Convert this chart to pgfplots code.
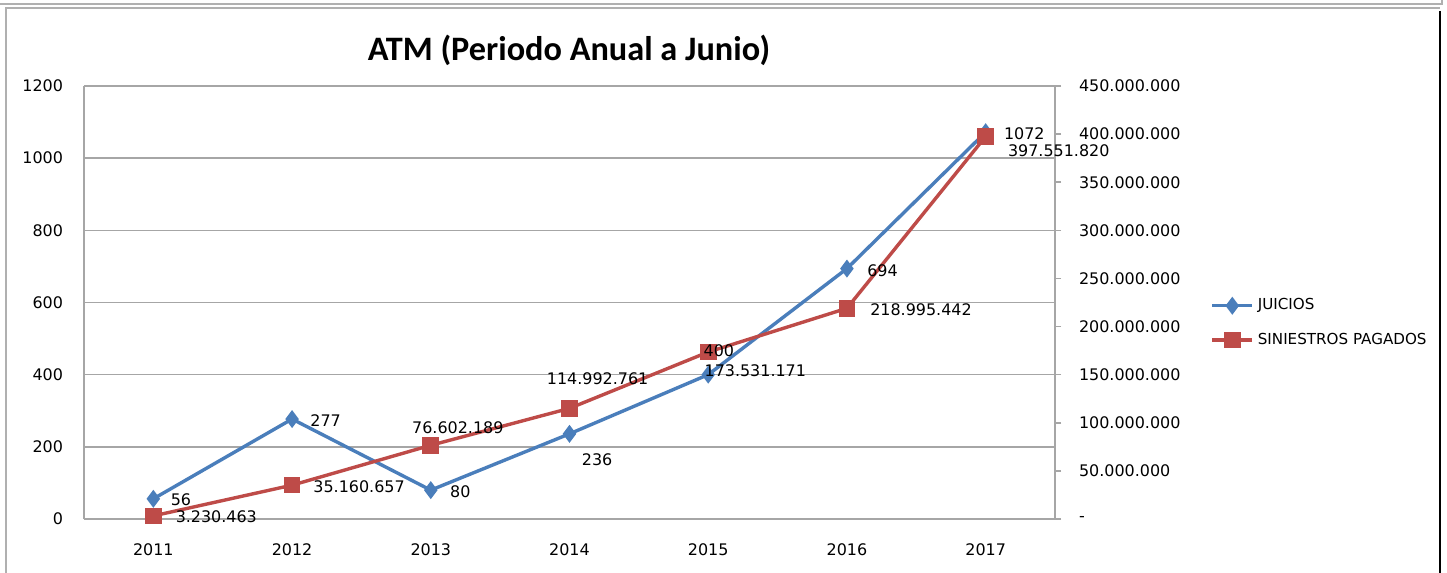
\documentclass[border=0pt]{standalone}
\usepackage{fontspec}
\setmainfont{DejaVu Sans}
\newfontfamily\titlefont{Carlito}
\usepackage{pgfplots}
\pgfplotsset{compat=1.18}
\definecolor{jblue}{HTML}{4A7EBB}
\definecolor{sred}{HTML}{BE4B48}
\definecolor{gridgray}{HTML}{A6A6A6}
\definecolor{framegray}{HTML}{B0B0B0}

\pgfplotstableread{
x y
0 56
1 277
2 80
3 236
4 400
5 694
6 1072
}\juicios

\pgfplotstableread{
x y
0 3230463
1 35160657
2 76602189
3 114992761
4 173531171
5 218995442
6 397551820
}\siniestros

\begin{document}
\begin{tikzpicture}
\useasboundingbox (0,0) rectangle (723.5bp,286.5bp);
\fill[white] (0,0) rectangle (723.5bp,286.5bp);
% frames
\draw[framegray, line width=1bp] (0,284.5bp) -- (721bp,284.5bp) -- (721bp,287bp);
\draw[framegray, line width=1bp] (3bp,-1bp) -- (3bp,282.3bp) -- (720bp,282.3bp);
\draw[black, line width=1.3bp] (720bp,281bp) -- (720bp,-1bp);

\node[font=\titlefont\bfseries\fontsize{17.2}{20}\selectfont] at (284.5bp,261.5bp) {ATM (Periodo Anual a Junio)};

\begin{axis}[
  at={(42bp,27bp)}, anchor=south west, scale only axis,
  width=485.5bp, height=216.5bp,
  xmin=-0.5, xmax=6.5, ymin=0, ymax=1200,
  xtick={0,1,2,3,4,5,6},
  xticklabels={2011,2012,2013,2014,2015,2016,2017},
  ytick={0,200,400,600,800,1000,1200},
  axis x line*=bottom, axis y line*=left,
  axis line style={gridgray, line width=0.8bp, -},
  ymajorgrids, grid style={gridgray, line width=0.8bp},
  major tick length=0pt,
  tick label style={font=\fontsize{8}{9}\selectfont},
  /pgf/number format/assume math mode=true,
  /pgf/number format/1000 sep={},
  yticklabel style={xshift=-7bp},
  xticklabel style={yshift=-9bp},
  clip=false,
]
\addplot[jblue, line width=1.7bp, mark=diamond*, mark size=3.1bp] table[x=x,y=y] {\juicios};
\coordinate (b0) at (axis cs:0,56);
\coordinate (b1) at (axis cs:1,277);
\coordinate (b2) at (axis cs:2,80);
\coordinate (b3) at (axis cs:3,236);
\coordinate (b4) at (axis cs:4,400);
\coordinate (b5) at (axis cs:5,694);
\coordinate (b6) at (axis cs:6,1072);
\end{axis}

\begin{axis}[
  at={(42bp,27bp)}, anchor=south west, scale only axis,
  width=485.5bp, height=216.5bp,
  xmin=-0.5, xmax=6.5, ymin=0, ymax=450000000,
  axis x line=none, axis y line*=right,
  axis line style={gridgray, line width=0.8bp, -},
  ytick={0,50000000,100000000,150000000,200000000,250000000,300000000,350000000,400000000,450000000},
  yticklabels={-,50.000.000,100.000.000,150.000.000,200.000.000,250.000.000,300.000.000,350.000.000,400.000.000,450.000.000},
  scaled y ticks=false,
  tick align=outside, major tick length=3bp,
  ytick style={gridgray, line width=0.8bp},
  yticklabel style={anchor=west, xshift=5.5bp, font=\fontsize{8}{9}\selectfont},
  legend style={at={(1.16,0.453)}, anchor=west, draw=none, fill=none,
    font=\fontsize{7.6}{9}\selectfont, row sep=6bp, inner sep=0pt},
  legend cell align=left,
  legend image code/.code={\draw[mark repeat=2,mark phase=2] plot coordinates {(0cm,0cm) (0.35cm,0cm) (0.7cm,0cm)};},
  clip=false,
]
\addlegendimage{jblue, line width=1.7bp, mark=diamond*, mark size=3.1bp}
\addlegendentry{JUICIOS}
\addplot[sred, line width=1.7bp, mark=square*, mark size=3.3bp] table[x=x,y=y] {\siniestros};
\addlegendentry{SINIESTROS PAGADOS}
\coordinate (r0) at (axis cs:0,3230463);
\coordinate (r1) at (axis cs:1,35160657);
\coordinate (r2) at (axis cs:2,76602189);
\coordinate (r3) at (axis cs:3,114992761);
\coordinate (r4) at (axis cs:4,173531171);
\coordinate (r5) at (axis cs:5,218995442);
\coordinate (r6) at (axis cs:6,397551820);
\end{axis}

\begin{scope}[every node/.style={font=\fontsize{8}{9}\selectfont, inner sep=0pt, anchor=west}]
\node[xshift=8.5bp, yshift=-0.5bp] at (b0) {56};
\node[xshift=9bp, yshift=-1bp] at (b1) {277};
\node[xshift=9.5bp, yshift=-1bp] at (b2) {80};
\node[xshift=6bp, yshift=-13bp] at (b3) {236};
\node[xshift=-2.5bp, yshift=12bp] at (b4) {400};
\node[xshift=10bp, yshift=-1bp] at (b5) {694};
\node[xshift=9bp, yshift=-1bp] at (b6) {1072};
\node[xshift=11bp, yshift=-0.5bp] at (r0) {3.230.463};
\node[xshift=10.5bp, yshift=-1bp] at (r1) {35.160.657};
\node[xshift=-9.5bp, yshift=9bp] at (r2) {76.602.189};
\node[xshift=-11.5bp, yshift=15bp] at (r3) {114.992.761};
\node[xshift=-2bp, yshift=-9.5bp] at (r4) {173.531.171};
\node[xshift=11.5bp, yshift=-0.5bp] at (r5) {218.995.442};
\node[xshift=11bp, yshift=-7bp] at (r6) {397.551.820};
\end{scope}
\end{tikzpicture}
\end{document}
